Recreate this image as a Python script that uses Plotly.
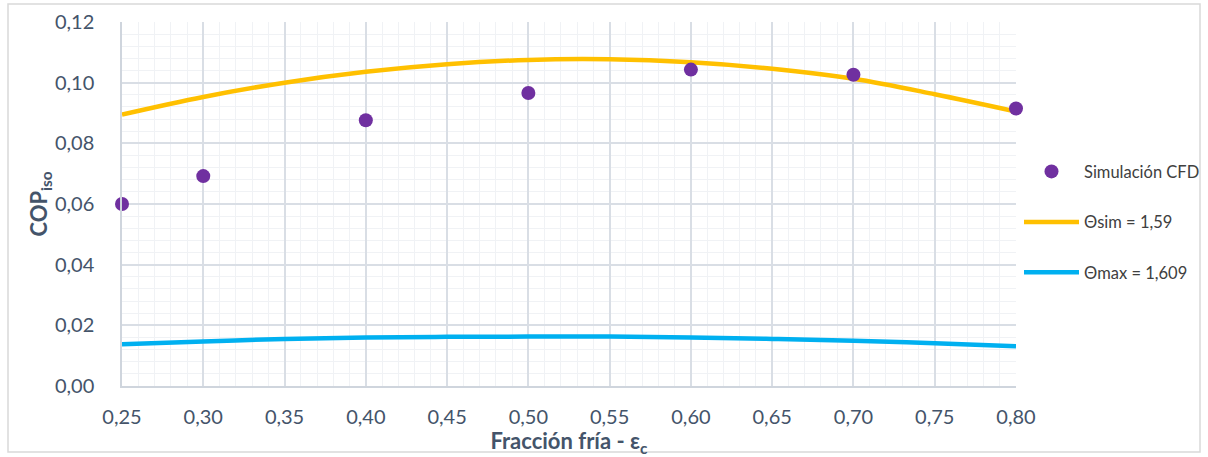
import plotly.graph_objects as go

# CFD simulation points
x_cfd = [0.25, 0.30, 0.40, 0.50, 0.60, 0.70, 0.80]
y_cfd = [0.0600, 0.0692, 0.0876, 0.0966, 0.1043, 0.1026, 0.0915]

# Theoretical curves
x_curve = [0.25, 0.30, 0.35, 0.40, 0.45, 0.50, 0.55, 0.60, 0.65, 0.70, 0.75, 0.80]
y_sim = [0.0895, 0.0953, 0.1000, 0.1036, 0.1061, 0.1075, 0.1077, 0.1067, 0.1046, 0.1013, 0.0962, 0.0905]
y_max = [0.0138, 0.0147, 0.0155, 0.0160, 0.0162, 0.0163, 0.0163, 0.0160, 0.0155, 0.0149, 0.0141, 0.0131]

x_ticks = [0.25, 0.30, 0.35, 0.40, 0.45, 0.50, 0.55, 0.60, 0.65, 0.70, 0.75, 0.80]
y_ticks = [0.00, 0.02, 0.04, 0.06, 0.08, 0.10, 0.12]

FONT = "Lato"
TXT = "#44546a"

fig = go.Figure()
fig.add_trace(go.Scatter(x=x_curve, y=y_sim, mode="lines", name="Θsim = 1,59",
                         line=dict(color="#ffc000", width=4.5, shape="spline"),
                         legendgroup="b", legendrank=2))
fig.add_trace(go.Scatter(x=x_curve, y=y_max, mode="lines", name="Θmax = 1,609",
                         line=dict(color="#00b0f0", width=4.5, shape="spline"),
                         legendgroup="c", legendrank=3))
fig.add_trace(go.Scatter(x=x_cfd, y=y_cfd, mode="markers", name="Simulación CFD",
                         marker=dict(color="#7030a0", size=14),
                         legendgroup="a", legendrank=1, cliponaxis=False))

fig.update_layout(
    width=1208, height=457,
    margin=dict(l=122, r=192, t=22, b=71, autoexpand=False),
    paper_bgcolor="white", plot_bgcolor="white",
    separators=",.",
    font=dict(family=FONT, color=TXT, size=18),
    showlegend=True,
    legend=dict(x=1.0 + 3/894, xanchor="left", y=0.45, yanchor="middle",
                font=dict(family=FONT, size=16.5, color="#404040"),
                tracegroupgap=26, itemwidth=55, bgcolor="rgba(0,0,0,0)"),
    shapes=[dict(type="rect", xref="paper", yref="paper",
                 x0=-114/894, x1=(1200-122)/894, y0=-66/364, y1=(386-4)/364,
                 line=dict(color="#d9d9d9", width=1.5), fillcolor="rgba(0,0,0,0)", layer="below")],
)

fig.update_xaxes(
    range=[0.25, 0.80], tickvals=x_ticks, tickformat=".2f",
    showgrid=True, gridcolor="#d9dee5", gridwidth=1.5,
    minor=dict(dtick=0.01, showgrid=True, gridcolor="#f0f2f5", gridwidth=1),
    showline=True, linecolor="#cfd5dd", linewidth=1.5, zeroline=False,
    ticks="", ticklabelstandoff=12, automargin=False,
    tickfont=dict(size=20, color=TXT, family=FONT),
    title=dict(text="<b>Fracción fría - ε<sub>c</sub></b>", font=dict(size=22, color=TXT, family=FONT), standoff=0),
)
fig.update_yaxes(
    range=[0, 0.12], tickvals=y_ticks, tickformat=".2f",
    showgrid=True, gridcolor="#d9dee5", gridwidth=1.5,
    minor=dict(dtick=0.004, showgrid=True, gridcolor="#f0f2f5", gridwidth=1),
    showline=True, linecolor="#cfd5dd", linewidth=1.5, zeroline=False,
    ticks="", ticklabelstandoff=22, automargin=False,
    tickfont=dict(size=20, color=TXT, family=FONT),
    title=dict(text="<b>COP<sub>iso</sub></b>", font=dict(size=22, color=TXT, family=FONT), standoff=0),
)

fig.write_html("out.html", config={"displayModeBar": False})

# remove default page margin so the figure sits at the window's top-left corner
with open("out.html", "r", encoding="utf-8") as f:
    html = f.read()
html = html.replace("<head>", "<head><style>html,body{margin:0;padding:0;overflow:hidden;}</style>", 1)
with open("out.html", "w", encoding="utf-8") as f:
    f.write(html)
